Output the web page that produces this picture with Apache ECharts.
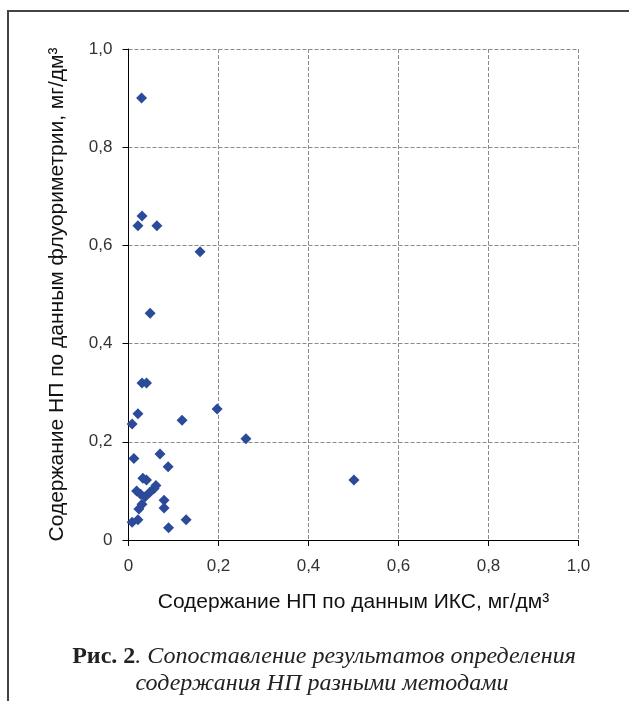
<!DOCTYPE html>
<html>
<head>
<meta charset="utf-8">
<script src="https://cdn.jsdelivr.net/npm/echarts@6/dist/echarts.min.js"></script>
<style>
html,body{margin:0;padding:0;background:#fff;}
#c{width:629px;height:701px;}
</style>
</head>
<body>
<div id="c"></div>
<script>
// ИКС values (x) and fluorimetry values (y), mg/dm3
const xValues = [0.029, 0.030, 0.021, 0.063, 0.159, 0.048, 0.030, 0.040, 0.197, 0.021, 0.008, 0.119, 0.261,
  0.012, 0.070, 0.088, 0.032, 0.040, 0.018, 0.027, 0.037, 0.048, 0.057, 0.061, 0.079, 0.079, 0.030, 0.023,
  0.008, 0.021, 0.089, 0.128, 0.501];
const yValues = [0.900, 0.660, 0.640, 0.640, 0.587, 0.462, 0.320, 0.320, 0.267, 0.257, 0.236, 0.244, 0.206,
  0.166, 0.175, 0.149, 0.126, 0.122, 0.100, 0.093, 0.088, 0.098, 0.105, 0.111, 0.081, 0.065, 0.073, 0.063,
  0.036, 0.041, 0.025, 0.041, 0.122];
const axisTicks = [0, 0.2, 0.4, 0.6, 0.8, 1.0];
const xAxisTitle = 'Содержание НП по данным ИКС, мг/дм³';
const yAxisTitle = 'Содержание НП по данным флуориметрии, мг/дм³';
const captionBold = 'Рис. 2';
const captionLine1 = '. Сопоставление результатов определения';
const captionLine2 = 'содержания НП разными методами';

const fmt = v => (v === 0 ? '0' : v.toFixed(1).replace('.', ','));
const points = xValues.map((x, i) => [x, yValues[i]]);

const chart = echarts.init(document.getElementById('c'), null, {renderer: 'canvas'});
const axisCommon = {
  type: 'value', min: axisTicks[0], max: axisTicks[axisTicks.length - 1], interval: 0.2,
  axisLine: {show: true, lineStyle: {color: '#000', width: 1}},
  axisTick: {show: true, length: 6, lineStyle: {color: '#000'}},
  splitLine: {show: true, lineStyle: {color: '#8a8a8a', type: [4, 2], width: 1}},
  axisLabel: {formatter: fmt, color: '#333', fontFamily: 'Liberation Sans', fontSize: 17},
  nameTextStyle: {color: '#111', fontFamily: 'Liberation Sans', fontSize: 21}
};
chart.setOption({
  animation: false,
  backgroundColor: '#fff',
  grid: {left: 128.5, right: 50.5, top: 49, bottom: 161, containLabel: false},
  xAxis: Object.assign({}, axisCommon, {
    name: xAxisTitle, nameLocation: 'middle', nameGap: 52,
    axisLabel: Object.assign({}, axisCommon.axisLabel, {margin: 18})
  }),
  yAxis: Object.assign({}, axisCommon, {
    name: yAxisTitle, nameLocation: 'middle', nameGap: 61, nameRotate: 90,
    axisLabel: Object.assign({}, axisCommon.axisLabel, {margin: 16})
  }),
  series: [{
    type: 'scatter', data: points, symbol: 'diamond', symbolSize: 11,
    itemStyle: {color: '#2b4a9a', opacity: 1}
  }],
  graphic: [
    {type: 'line', shape: {x1: 8, y1: 11, x2: 629, y2: 11}, style: {stroke: '#444', lineWidth: 2}},
    {type: 'line', shape: {x1: 8, y1: 10, x2: 8, y2: 701}, style: {stroke: '#444', lineWidth: 2}},
    {type: 'text', x: 324, y: 657, style: {
      text: '{b|' + captionBold + '}{i|' + captionLine1 + '}', align: 'center', verticalAlign: 'middle',
      rich: {
        b: {fontFamily: 'Liberation Serif', fontWeight: 'bold', fontSize: 24, fill: '#222'},
        i: {fontFamily: 'Liberation Serif', fontStyle: 'italic', fontSize: 24, fill: '#222'}
      }}},
    {type: 'text', x: 322, y: 684, style: {
      text: captionLine2, align: 'center', verticalAlign: 'middle',
      fontFamily: 'Liberation Serif', fontStyle: 'italic', fontSize: 24, fill: '#222'}}
  ]
});
</script>
</body>
</html>
